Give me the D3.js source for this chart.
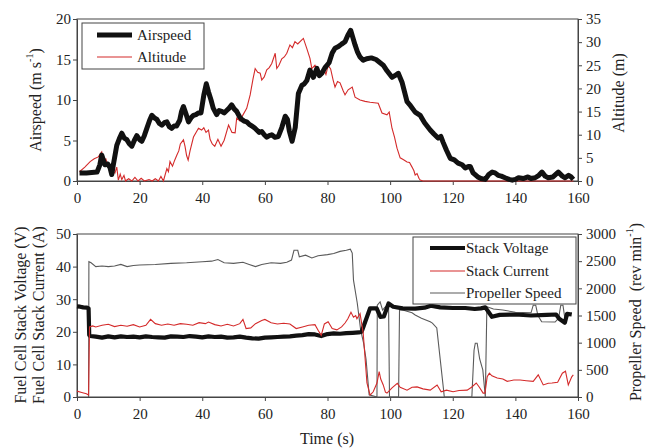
<!DOCTYPE html>
<html><head><meta charset="utf-8">
<script src="https://cdn.jsdelivr.net/npm/d3@7"></script>
<style>
html,body{margin:0;padding:0;background:#fff;}
svg text{font-family:"Liberation Serif","DejaVu Serif",serif !important;fill:#222;}
</style></head>
<body><svg id="c" width="647" height="448"></svg>
<script>
// ---------- DATA ----------
const xTicks = [0,20,40,60,80,100,120,140,160];
const airspeedTicks = [0,5,10,15,20];
const altitudeTicks = [0,5,10,15,20,25,30,35];
const voltCurTicks = [0,10,20,30,40,50];
const propTicks = [0,500,1000,1500,2000,2500,3000];

// [time (s), airspeed (m/s)]
const airspeed = [[0.8,1.0],[3,1.0],[6.4,1.1],[7.3,2.0],[7.9,3.2],[8.9,2.0],[9.8,2.1],[10.5,1.7],[11.1,0.8],[11.6,2.0],[12.7,4.4],[13.5,5.2],[14.3,5.9],[15.1,5.3],[15.9,5.1],[16.7,4.6],[17.5,4.3],[18.3,5.0],[19.1,5.6],[20,5.1],[20.7,4.9],[21.5,5.6],[22.3,6.5],[23.2,7.5],[23.9,8.1],[24.7,7.8],[25.5,7.6],[26.3,7.1],[27.1,6.9],[27.9,7.2],[28.7,7.3],[29.5,6.7],[30.2,6.5],[31,6.8],[31.8,6.8],[32.8,7.5],[33.4,8.6],[34,9.2],[34.8,8.3],[35.6,7.3],[36.4,7.8],[37.2,8.1],[38,8.2],[38.8,8.4],[39.6,8.4],[40.5,10.6],[41.3,12.0],[42,11.0],[42.8,10.0],[43.5,9.0],[44.6,8.2],[45.4,8.7],[46.2,8.6],[47,8.4],[47.8,8.7],[48.6,9.0],[49.4,9.4],[50.2,8.9],[51,8.6],[51.8,8.0],[52.6,7.6],[53.4,7.4],[54.2,7.3],[55,7.0],[55.8,6.8],[56.6,6.6],[57.4,6.3],[58.2,6.0],[59,6.1],[59.8,5.7],[60.6,5.4],[61.4,5.6],[62.2,5.7],[63.2,5.4],[64.3,5.5],[65.4,6.6],[66.5,8.0],[67.2,7.6],[67.8,6.2],[68.7,4.9],[69.7,6.6],[70.7,10.8],[71.8,11.8],[72.6,12.0],[73.4,12.4],[74.4,13.7],[75.5,12.8],[76.6,13.9],[77.4,13.0],[78.2,13.3],[79.2,14.0],[80.5,14.6],[81.5,15.8],[82.4,16.4],[83.5,16.6],[84.5,16.9],[85.6,17.2],[86.5,18.0],[87.4,18.6],[88.1,17.7],[88.8,16.8],[89.6,15.9],[90.4,15.3],[91.4,14.9],[92.5,15.1],[94,15.2],[95.5,15.0],[96.8,14.6],[97.8,14.3],[99,13.6],[100.6,12.8],[101.5,13.0],[102.6,13.3],[103.8,12.2],[104.6,11.0],[105.4,9.8],[106.5,9.3],[108,8.5],[109.6,8.1],[111,7.2],[112.8,6.3],[114,5.8],[115.3,5.3],[116.2,5.5],[116.9,4.8],[118,3.8],[119.2,2.8],[120.5,2.6],[121.7,2.2],[123,2.0],[124,1.6],[125,1.8],[125.6,1.8],[126.5,1.0],[128,0.5],[129,0.3],[130.4,0.2],[131.5,0.8],[132.6,1.1],[133.5,1.0],[134.5,0.7],[135.5,0.6],[136.7,0.4],[138,0.2],[139,0.1],[140,0.2],[141,0.4],[142.5,0.3],[144,0.5],[145,0.3],[146.3,0.4],[147.5,0.7],[148.5,1.1],[149.5,0.6],[150.5,0.4],[152,0.5],[153.7,1.1],[155,0.6],[155.9,0.4],[157,0.7],[157.8,0.5],[158.5,0.2]];

// [time (s), altitude (m)]
const altitude = [[0.8,2.0],[2.5,3.0],[4.2,4.2],[5.5,4.8],[6.8,5.2],[7.9,6.3],[8.5,4.2],[9.2,4.8],[9.6,4.0],[10.3,2.7],[11,3.3],[11.5,2.2],[12.1,1.7],[12.7,3.0],[13.2,0.2],[13.8,1.5],[14.3,0.3],[15,1.2],[15.5,0],[16.5,0.5],[17.5,0],[18.5,0.8],[19.5,0],[20.5,0.6],[21.5,0],[23,0.3],[24,0],[25,0.5],[26,0],[26.8,1.0],[27.6,0],[28.7,2.7],[29.2,2.0],[29.7,4.2],[30.5,3.2],[31.2,4.5],[31.9,5.6],[32.5,6.5],[33,8.0],[34,8.9],[34.5,7.5],[35,5.5],[35.5,4.5],[36.1,6.5],[37.2,9.5],[38.8,11.4],[39.8,11.0],[40.5,11.5],[41.2,10.5],[42,11.0],[42.5,9.0],[43.2,8.0],[44,7.5],[45,9.0],[46,7.5],[47,8.8],[48.4,12.1],[49.5,10.5],[50.5,10.4],[51,13.6],[52,13.0],[52.6,13.8],[54.2,15.7],[55.3,18.6],[56.2,22.0],[56.9,24.3],[57.7,23.5],[58.5,23.3],[59,21.8],[59.8,22.5],[60.6,24.0],[61.4,24.5],[62.2,25.4],[63.3,27.6],[63.8,24.3],[64.5,25.0],[65.4,26.4],[66.2,26.8],[67,27.6],[68,29.4],[68.8,28.8],[69.6,30.1],[70.5,29.6],[71.8,30.5],[72.3,30.8],[73.4,28.6],[74.4,26.5],[75,24.3],[76,25.0],[76.8,24.0],[77.6,23.3],[78.7,24.3],[79.5,23.0],[80.2,25.0],[81,24.2],[81.8,21.8],[82.4,20.3],[83.2,21.5],[84,21.2],[85,19.5],[85.6,18.6],[86.6,19.7],[87.9,20.3],[88.8,18.1],[90.4,17.5],[92,17.2],[93.6,17.0],[96.2,16.8],[97.4,14.7],[99,14.3],[99.7,14.9],[100.6,11.4],[101.4,9.5],[102.2,7.1],[103.2,5.0],[104.3,4.6],[105.4,4.1],[106.2,4.0],[107,3.0],[107.6,2.2],[108,1.3],[108.6,1.6],[109.2,0.6],[109.6,0.2],[110.5,0],[158.5,0]];

// [time (s), stack voltage (V)]
const stackVoltage = [[0,27.8],[1,27.7],[2,27.5],[3.2,27.4],[3.7,27.2],[3.9,19.0],[4.2,18.7],[6,18.5],[8,18.2],[10,18.6],[12,18.3],[14,18.6],[16,18.4],[18,18.5],[20,18.3],[22,18.6],[24,18.4],[26,18.3],[28,18.2],[30,18.6],[32,18.5],[34,18.4],[36,18.7],[38,18.5],[40,18.3],[42,18.6],[44,18.4],[46,18.5],[48,18.2],[50,18.3],[52,18.5],[54,18.2],[56,18.0],[58,17.9],[60,18.2],[62,18.3],[64,18.4],[66,18.5],[68,18.6],[70,18.8],[72,19.0],[74,19.3],[76,19.2],[78,18.7],[80,19.3],[82,19.5],[84,19.4],[86,19.6],[88,19.7],[90,19.8],[90.9,20.0],[93.6,27.2],[95.7,27.2],[96.9,24.6],[98,24.7],[99.5,28.7],[101,27.7],[104,27.2],[108,27.1],[111,27.4],[113,28.0],[116,27.5],[120,27.3],[124,27.3],[127,27.0],[129,27.2],[130.4,27.5],[132.5,24.6],[135,25.2],[140,25.3],[145,25.0],[150,25.2],[153,25.3],[154,24.0],[155.8,22.8],[156.5,25.5],[158,25.3]];

// [time (s), stack current (A)]
const stackCurrent = [[0,1.8],[1.5,1.4],[3,1.0],[3.7,0.6],[4.0,21.5],[5,21.8],[6,21.5],[8,22.0],[10,22.3],[12,21.6],[14,22.0],[16,21.7],[18,22.2],[20,21.5],[22,22.0],[23.5,23.8],[25,22.5],[27,22.0],[29,22.4],[31,22.0],[33,22.5],[35,22.3],[37,22.0],[39,22.8],[41,22.5],[42,23.0],[44,22.2],[46,21.8],[48,22.3],[50,21.8],[52,22.5],[53,23.8],[54,21.0],[55.5,21.2],[57,22.5],[59,23.5],[60,23.8],[62,22.8],[64,22.4],[66,22.6],[68,22.4],[70,21.0],[72,21.5],[74,22.0],[76,22.2],[77,20.5],[78,18.9],[79,22.4],[80.2,23.1],[81.5,21.0],[83,20.6],[84.5,21.5],[85.6,22.7],[86.5,24.0],[87.5,26.0],[88.3,24.5],[89,25.0],[89.4,24.0],[90.4,25.6],[91.4,19.6],[92.6,4.3],[93.6,0.6],[94.6,1.6],[95.8,4.3],[96.5,7.8],[97,5.5],[97.8,3.7],[98.5,1.5],[99,1.2],[100.6,2.8],[102.3,4.2],[103.2,3.0],[105.4,2.1],[107,3.0],[108.6,3.1],[110.5,2.5],[112.8,2.1],[115,3.7],[116.3,1.6],[118,2.1],[120.1,1.6],[122,2.0],[124.6,2.1],[126,3.0],[127.5,4.3],[128.5,3.0],[129.7,1.2],[130.3,1.2],[131,6.2],[131.7,7.3],[132.5,6.5],[134.2,5.8],[136,5.5],[137.4,4.8],[139.5,5.2],[141.5,5.2],[143.5,5.0],[145.7,4.8],[147.3,6.8],[148.9,3.7],[150.5,4.2],[151.7,4.3],[153.5,4.5],[155,7.3],[156,7.9],[156.9,3.7],[158,6.2],[158.5,6.8]];

// [time (s), propeller speed (rev/min)]
const propSpeed = [[3.7,0],[3.8,2490],[4.5,2470],[6,2400],[8,2410],[10,2400],[12,2410],[14,2440],[16,2400],[18,2420],[20,2430],[25,2440],[30,2460],[35,2470],[40,2490],[43,2500],[45,2530],[47,2470],[50,2460],[53,2480],[55,2440],[57,2400],[59,2440],[62,2470],[65,2460],[67,2480],[68.5,2520],[69.3,2700],[70.5,2700],[71,2580],[73,2610],[75,2560],[77,2600],[80,2620],[82,2640],[84,2680],[86,2700],[87.3,2720],[87.9,2650],[88.3,2150],[89.5,1730],[90.6,1230],[91.5,1000],[92.3,700],[93.3,40],[95.8,0],[95.9,1690],[96.8,1750],[97.6,1600],[98.3,1650],[99.5,1700],[99.8,0],[102.7,0],[103,1600],[104,1600],[107,1550],[108,1510],[110,1450],[112.8,1385],[113.5,1360],[114.9,1270],[117,165],[117.3,0],[126.1,0],[126.8,860],[127.2,990],[127.8,990],[128.6,700],[129.3,560],[129.6,500],[130.4,0],[130.9,1660],[133,1620],[136,1600],[140,1560],[145,1550],[145.7,1690],[146.5,1690],[147.2,1500],[148.4,1385],[152.7,1380],[153.8,1450],[154.5,1690],[155.2,1690],[155.8,1450],[157,1500],[158,1550]];

// ---------- DRAW ----------
const svg = d3.select("#c");
const FONT = "Liberation Serif, DejaVu Serif, serif";
const L = 77, R = 578;
const top1 = 19, bot1 = 181, top2 = 234, bot2 = 397;
const red = "#d42a2a", gray = "#5a5a5a", ink = "#111", axisCol = "#444";
const FS = 15;

const x = d3.scaleLinear().domain([0,160]).range([L,R]);
const yAir = d3.scaleLinear().domain([0,20]).range([bot1,top1]);
const yAlt = d3.scaleLinear().domain([0,35]).range([bot1,top1]);
const yVC = d3.scaleLinear().domain([0,50]).range([bot2,top2]);
const yProp = d3.scaleLinear().domain([0,3000]).range([bot2,top2]);
const fmt = d3.format("d");

function styleAxis(g){
  g.attr("font-family",FONT);
  g.select(".domain").attr("stroke",axisCol);
  g.selectAll(".tick line").attr("stroke",axisCol);
  g.selectAll(".tick text").attr("font-size",FS).attr("font-family",FONT).attr("fill","#222");
}
function panel(yl, yr, lt, rt, top, bot){
  svg.append("rect").attr("x",L).attr("y",top).attr("width",R-L).attr("height",bot-top)
    .attr("fill","none").attr("stroke",axisCol).attr("stroke-width",1);
  svg.append("g").attr("transform",`translate(0,${bot})`)
    .call(d3.axisBottom(x).tickValues(xTicks).tickFormat(fmt).tickSize(4).tickSizeOuter(0).tickPadding(7)).call(styleAxis);
  svg.append("g").attr("transform",`translate(${L},0)`)
    .call(d3.axisLeft(yl).tickValues(lt).tickFormat(fmt).tickSize(4).tickSizeOuter(0).tickPadding(2)).call(styleAxis);
  svg.append("g").attr("transform",`translate(${R},0)`)
    .call(d3.axisRight(yr).tickValues(rt).tickFormat(fmt).tickSize(4).tickSizeOuter(0).tickPadding(4)).call(styleAxis);
}
panel(yAir, yAlt, airspeedTicks, altitudeTicks, top1, bot1);
panel(yVC, yProp, voltCurTicks, propTicks, top2, bot2);

const line = (ys) => d3.line().x(d=>x(d[0])).y(d=>ys(d[1])).curve(d3.curveLinear);

svg.append("path").datum(altitude).attr("d",line(yAlt)).attr("fill","none").attr("stroke",red).attr("stroke-width",1.1);
svg.append("path").datum(airspeed).attr("d",line(yAir)).attr("fill","none").attr("stroke",ink).attr("stroke-width",5).attr("stroke-linejoin","round");

svg.append("path").datum(propSpeed).attr("d",line(yProp)).attr("fill","none").attr("stroke",gray).attr("stroke-width",1.1);
svg.append("path").datum(stackVoltage).attr("d",line(yVC)).attr("fill","none").attr("stroke",ink).attr("stroke-width",4.2).attr("stroke-linejoin","round");
svg.append("path").datum(stackCurrent).attr("d",line(yVC)).attr("fill","none").attr("stroke",red).attr("stroke-width",1.1);

function legend(bx,by,bw,bh,items,lx1,lx2,tx,rows){
  svg.append("rect").attr("x",bx).attr("y",by).attr("width",bw).attr("height",bh)
    .attr("fill","#fff").attr("stroke",axisCol).attr("stroke-width",1);
  items.forEach((it,i)=>{
    svg.append("line").attr("x1",lx1).attr("x2",lx2).attr("y1",rows[i]).attr("y2",rows[i])
      .attr("stroke",it.c).attr("stroke-width",it.w);
    svg.append("text").attr("x",tx).attr("y",rows[i]+5).attr("font-size",15).attr("font-family",FONT).text(it.t);
  });
}
legend(82,23,122,46,[{t:"Airspeed",c:ink,w:5},{t:"Altitude",c:red,w:1.1}],97,132,137,[35,57]);
legend(413,237,163,67,[{t:"Stack Voltage",c:ink,w:4.2},{t:"Stack Current",c:red,w:1.1},{t:"Propeller Speed",c:gray,w:1.1}],430,465,466,[248,271,293]);

function vtitle(cx,cy,parts){
  const t = svg.append("text").attr("transform",`translate(${cx},${cy}) rotate(-90)`)
    .attr("text-anchor","middle").attr("dominant-baseline","central").attr("font-size",16).attr("font-family",FONT);
  parts.forEach(p=>{
    const s = t.append("tspan").text(p.t);
    if(p.sup){ s.attr("baseline-shift","super").attr("font-size",10); }
  });
}
vtitle(35,100,[{t:"Airspeed (m s"},{t:"-1",sup:true},{t:")"}]);
vtitle(618,93,[{t:"Altitude (m)"}]);
vtitle(20,315,[{t:"Fuel Cell Stack Voltage (V)"}]);
vtitle(38,315,[{t:"Fuel Cell Stack Current (A)"}]);
vtitle(635,312,[{t:"Propeller Speed\u00a0\u00a0(rev min"},{t:"-1",sup:true},{t:")"}]);
svg.append("text").attr("x",327).attr("y",444).attr("text-anchor","middle").attr("font-size",16).attr("font-family",FONT).text("Time (s)");
</script></body></html>
